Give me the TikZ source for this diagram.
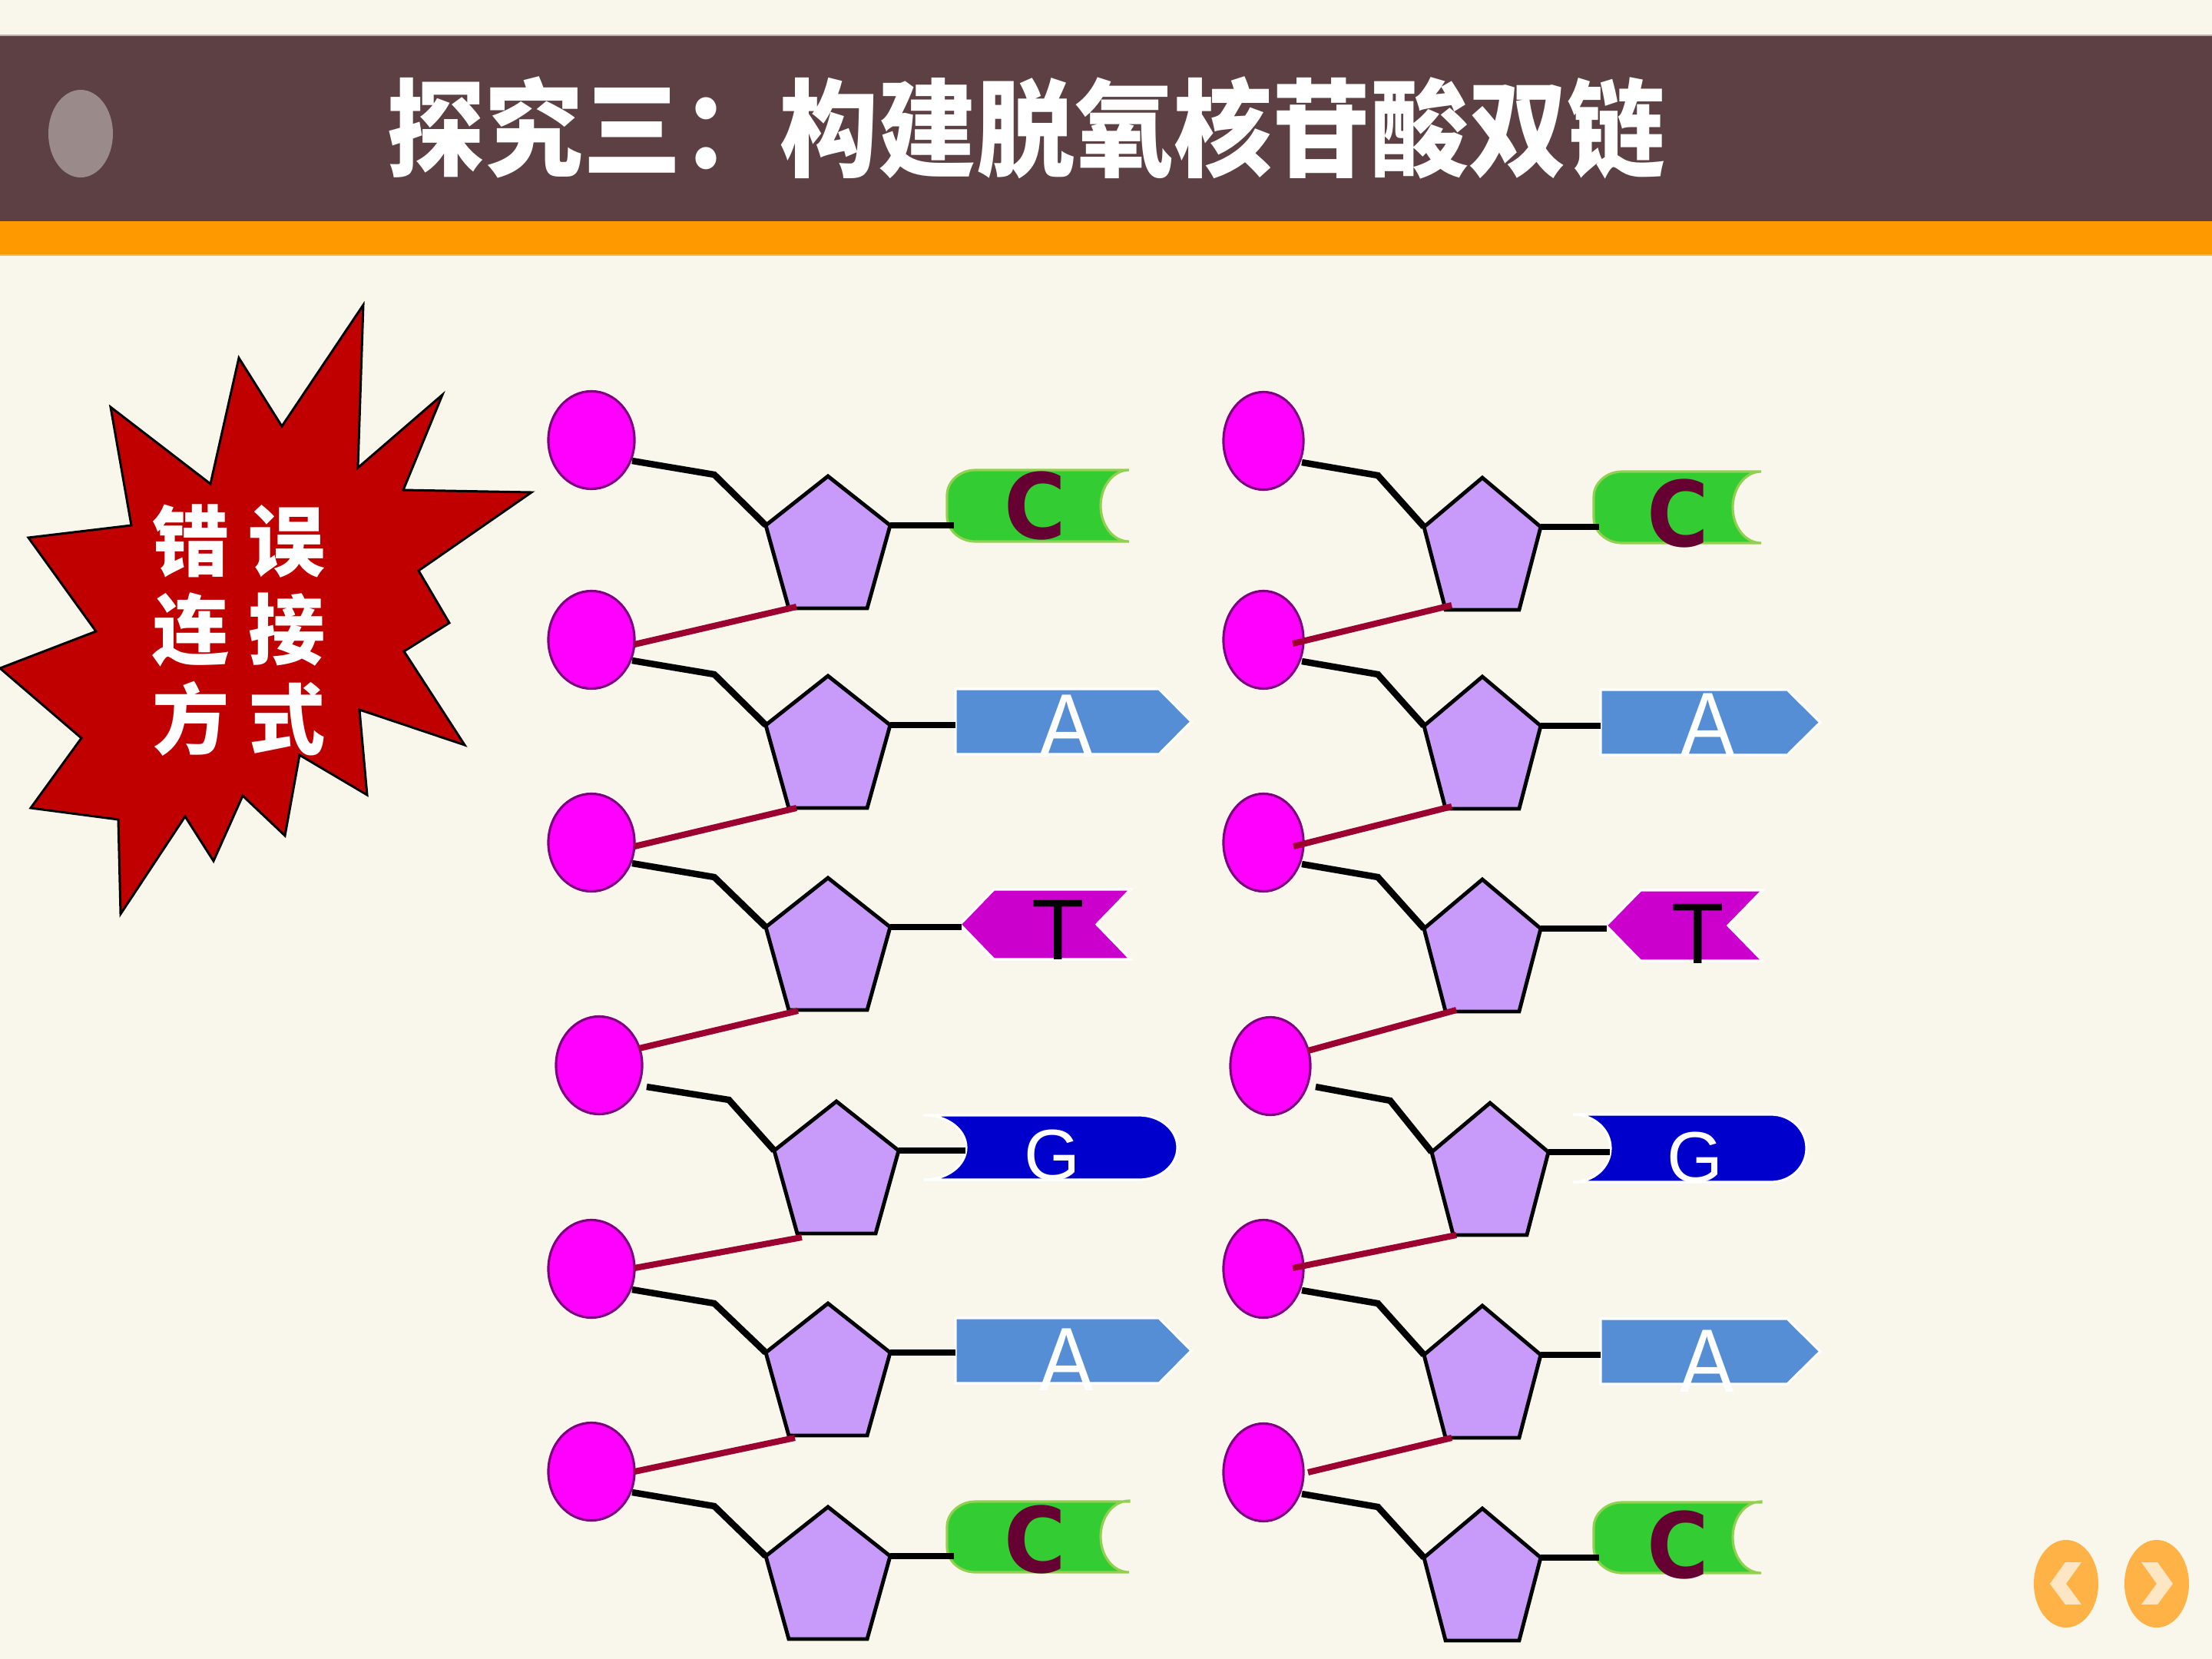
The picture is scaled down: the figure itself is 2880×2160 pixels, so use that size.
\documentclass[tikz,border=0pt]{standalone}
\usepackage{fontspec}
\usepackage{graphicx}
\usetikzlibrary{calc,shapes.geometric}
\newfontfamily\cjk{Noto Sans CJK SC}
\newfontfamily\djb{DejaVu Sans}
\newfontfamily\lib{Liberation Sans}
\definecolor{bg}{HTML}{F9F7EB}
\definecolor{bar}{HTML}{5C4043}
\definecolor{orng}{HTML}{FF9900}
\definecolor{tell}{HTML}{9A8A8A}
\definecolor{burst}{HTML}{C00000}
\definecolor{phos}{HTML}{FF00FF}
\definecolor{phosline}{HTML}{7F007F}
\definecolor{sug}{HTML}{C89BFA}
\definecolor{linkred}{HTML}{9C0030}
\definecolor{cgreen}{HTML}{33CC33}
\definecolor{cline}{HTML}{92D050}
\definecolor{cmaroon}{HTML}{660033}
\definecolor{ablue}{HTML}{558ED5}
\definecolor{tmag}{HTML}{CC00CC}
\definecolor{gblue}{HTML}{0000CC}
\definecolor{nav}{HTML}{FFB347}
\definecolor{chev}{HTML}{FCE6C4}

\newcommand{\mksugar}[4]{%
  \path[sugar] (#2,#3) coordinate (#1-t)
    -- ({#2+#4},{#3+64}) coordinate (#1-r)
    -- ({#2+0.63*#4},{#3+172}) coordinate (#1-br)
    -- ({#2-0.63*#4},{#3+172}) coordinate (#1-bl)
    -- ({#2-#4},{#3+64}) coordinate (#1-l) -- cycle;}
% x0 x1 y0 y1
\newcommand{\mkC}[4]{%
  \path[cshape] (#2,#3) -- ({#1+37},#3)
    arc[start angle=270,end angle=180,x radius=37,y radius=33]
    -- (#1,{#4-33})
    arc[start angle=180,end angle=90,x radius=37,y radius=33]
    -- (#2,#4)
    arc[start angle=90,end angle=270,x radius=37,y radius=46.5] -- cycle;}
% x0 x1 tip y0 y1
\newcommand{\mkA}[5]{%
  \path[ashape] (#1,#4) -- (#2,#4) -- (#3,{(#4+#5)/2}) -- (#2,#5) -- (#1,#5) -- cycle;}
% x0 x1 y0 y1 dx
\newcommand{\mkT}[5]{%
  \path[tshape] (#1,{(#3+#4)/2}) -- ({#1+#5},#3) -- (#2,#3) -- ({#2-#5},{(#3+#4)/2})
    -- (#2,#4) -- ({#1+#5},#4) -- cycle;}
% x0 xcap y0 y1 concave-rx cap-rx ry
\newcommand{\mkG}[7]{%
  \path[gshape] (#1,#3) -- (#2,#3)
    arc[start angle=270,end angle=450,x radius=#6,y radius=#7]
    -- (#1,#4)
    arc[start angle=90,end angle=-90,x radius=#5,y radius=#7] -- cycle;}

\begin{document}
\begin{tikzpicture}[x=0.01cm,y=-0.01cm,
  phosL/.style={ellipse, draw=phosline, line width=0.9pt, fill=phos, minimum width=1.12cm, minimum height=1.27cm, inner sep=0pt},
  phosR/.style={phosL, minimum width=1.04cm},
  sugar/.style={fill=sug, draw=black, line width=1.4pt},
  bond/.style={draw=black, line width=2.4pt},
  link/.style={draw=linkred, line width=2.3pt},
  basebond/.style={draw=black, line width=2.4pt},
  cshape/.style={fill=cgreen, draw=cline, line width=0.9pt},
  ashape/.style={fill=ablue, draw=white, line width=0.9pt},
  tshape/.style={fill=tmag, draw=white, line width=0.9pt},
  gshape/.style={fill=gblue, draw=white, line width=0.9pt},
  ctext/.style={inner sep=0pt, anchor=base, text=cmaroon, font=\djb\bfseries\fontsize{33.6pt}{36pt}\selectfont},
  atext/.style={inner sep=0pt, anchor=base, text=white, font=\lib\fontsize{33.3pt}{36pt}\selectfont},
  ttext/.style={inner sep=0pt, anchor=base, text=black, font=\lib\fontsize{31.9pt}{34pt}\selectfont},
  gtext/.style={inner sep=0pt, anchor=base, text=white, font=\lib\fontsize{26.7pt}{30pt}\selectfont},
  bursttext/.style={inner sep=0pt, text=white, font=\cjk\bfseries\fontsize{28.5pt}{30pt}\selectfont},
  navbtn/.style={ellipse, fill=nav, minimum width=0.84cm, minimum height=1.14cm, inner sep=0pt},
]
\useasboundingbox (0,0) rectangle (2880,2160);
\fill[bg] (0,0) rectangle (2880,2160);

% title bar
\fill[bar] (0,46) rectangle (2880,288);
\fill[orng] (0,288) rectangle (2880,332);
\draw[color=bar!40!bg, line width=0.5pt] (0,46) -- (2880,46);
\draw[color=orng!60!black!40!bg, line width=0.5pt] (0,332) -- (2880,332);
\node[ellipse, fill=tell, minimum width=0.84cm, minimum height=1.14cm, inner sep=0pt] (dot) at (105,174) {};
\node[inner sep=0pt, text=white, font=\cjk\bfseries\fontsize{36.4pt}{40pt}\selectfont] (title) at (1336,166)
  {\scalebox{1}[1.08]{探究三：构建脱氧核苷酸双链}};

% starburst
\path[fill=burst, draw=black, line width=0.85pt, line join=miter]
  (473,397) -- (466,609) -- (576,514) -- (525,638) -- (692,641) -- (545,743) -- (585,811)
  -- (526,848) -- (605,970) -- (468,924) -- (478,1035) -- (390,983) -- (371,1088)
  -- (316,1036) -- (278,1121) -- (241,1063) -- (157,1190) -- (154,1067) -- (40,1052)
  -- (106,961) -- (0,870) -- (125,822) -- (37,700) -- (171,684) -- (144,530)
  -- (274,630) -- (311,466) -- (367,555) -- cycle;
\node[bursttext] (w1) at (311,705) {错\hspace{7pt}误};
\node[bursttext] (w2) at (311,820) {连\hspace{7pt}接};
\node[bursttext] (w3) at (311,936) {方\hspace{7pt}式};

% ---------- bases ----------
% left column
\mkC{1233}{1470}{612}{705}
\mkA{1244}{1509}{1551}{897}{982}
\mkT{1250}{1472}{1158}{1249}{44}
\mkG{1203}{1483}{1452}{1536}{55}{50}{42}
\mkA{1244}{1509}{1551}{1716}{1801}
\mkC{1233}{1470}{1955}{2047}
% right column
\mkC{2075}{2293}{614}{707}
\mkA{2084}{2327}{2370}{898}{983}
\mkT{2091}{2295}{1159}{1251}{45}
\mkG{2048}{2306}{1451}{1539}{49}{46}{44}
\mkA{2084}{2327}{2370}{1717}{1802}
\mkC{2075}{2293}{1956}{2048}

% ---------- sugars ----------
\mksugar{SL1}{1078}{620}{81}
\mksugar{SL2}{1078}{880}{81}
\mksugar{SL3}{1078}{1143}{81}
\mksugar{SL4}{1089}{1434}{81}
\mksugar{SL5}{1078}{1697}{81}
\mksugar{SL6}{1078}{1962}{81}
\mksugar{SR1}{1930}{622}{76}
\mksugar{SR2}{1930}{881}{76}
\mksugar{SR3}{1930}{1145}{76}
\mksugar{SR4}{1940}{1436}{76}
\mksugar{SR5}{1930}{1700}{76}
\mksugar{SR6}{1930}{1964}{76}

% ---------- phosphates ----------
\node[phosL] (L1) at (770,573) {};
\node[phosL] (L2) at (770,833) {};
\node[phosL] (L3) at (770,1097) {};
\node[phosL] (L4) at (780,1387) {};
\node[phosL] (L5) at (770,1652) {};
\node[phosL] (L6) at (770,1916) {};
\node[phosR] (R1) at (1645,574) {};
\node[phosR] (R2) at (1645,833) {};
\node[phosR] (R3) at (1645,1097) {};
\node[phosR] (R4) at (1654,1388) {};
\node[phosR] (R5) at (1645,1652) {};
\node[phosR] (R6) at (1645,1917) {};

% ---------- phosphate-sugar bonds ----------
\foreach \k in {1,2,3,5,6} {
  \draw[bond] ($(L\k)+(53,27)$) -- ($(L\k)+(160,45)$) -- (SL\k-l);
  \draw[bond] ($(R\k)+(50,28)$) -- ($(R\k)+(149,45)$) -- (SR\k-l);
}
\draw[bond] ($(L4)+(62,28)$) -- ($(L4)+(169,45)$) -- (SL4-l);
\draw[bond] ($(R4)+(59,27)$) -- ($(R4)+(156,45)$) -- (SR4-l);

% ---------- wrong links (red) ----------
\draw[link] ($(SL1-bl)+(10,-2)$) -- ($(L2)+(56,6)$);
\draw[link] ($(SL2-bl)+(10,0)$) -- ($(L3)+(56,5)$);
\draw[link] ($(SL3-bl)+(12,1)$) -- ($(L4)+(52,-22)$);
\draw[link] ($(SL4-bl)+(6,5)$) -- ($(L5)+(56,-1)$);
\draw[link] ($(SL5-bl)+(8,3)$) -- ($(L6)+(56,0)$);
\draw[link] ($(SR1-bl)+(8,-6)$) -- ($(R2)+(38,5)$);
\draw[link] ($(SR2-bl)+(8,-3)$) -- ($(R3)+(39,5)$);
\draw[link] ($(SR3-bl)+(14,-2)$) -- ($(R4)+(49,-20)$);
\draw[link] ($(SR4-bl)+(4,0)$) -- ($(R5)+(38,-1)$);
\draw[link] ($(SR5-bl)+(8,0)$) -- ($(R6)+(58,0)$);

% ---------- sugar-base bonds ----------
\coordinate (bL1) at (SL1-r -| 1242,0);
\coordinate (bL2) at (SL2-r -| 1244,0);
\coordinate (bL3) at (SL3-r -| 1252,0);
\coordinate (bL4) at (SL4-r -| 1257,0);
\coordinate (bL5) at (SL5-r -| 1244,0);
\coordinate (bL6) at (SL6-r -| 1242,0);
\coordinate (bR1) at (SR1-r -| 2082,0);
\coordinate (bR2) at (SR2-r -| 2084,0);
\coordinate (bR3) at (SR3-r -| 2092,0);
\coordinate (bR4) at (SR4-r -| 2096,0);
\coordinate (bR5) at (SR5-r -| 2084,0);
\coordinate (bR6) at (SR6-r -| 2082,0);
\foreach \k in {1,...,6} {
  \draw[basebond] (SL\k-r) -- (bL\k);
  \draw[basebond] (SR\k-r) -- (bR\k);
}

% ---------- base letters ----------
\node[ctext] (cL1) at (1348,701) {\scalebox{0.93}[1]{C}};
\node[atext] (aL2) at (1389,985) {\scalebox{0.9}[1]{A}};
\node[ttext] (tL3) at (1378,1249) {T};
\node[gtext] (gL4) at (1370,1536) {G};
\node[atext] (aL5) at (1389,1810) {\scalebox{0.9}[1]{A}};
\node[ctext] (cL6) at (1348,2047) {\scalebox{0.93}[1]{C}};
\node[ctext] (cR1) at (2185,711) {\scalebox{0.93}[1]{C}};
\node[atext] (aR2) at (2224,983) {\scalebox{0.9}[1]{A}};
\node[ttext] (tR3) at (2211,1254) {T};
\node[gtext] (gR4) at (2207,1539) {G};
\node[atext] (aR5) at (2223,1812) {\scalebox{0.9}[1]{A}};
\node[ctext] (cR6) at (2185,2054) {\scalebox{0.93}[1]{C}};

% ---------- navigation buttons ----------
\node[navbtn] (prev) at (2690,2062) {};
\node[navbtn] (next) at (2808,2062) {};
\fill[chev] (2710,2034) -- (2689,2034) -- (2669,2062) -- (2689,2089) -- (2710,2089) -- (2690,2062) -- cycle;
\fill[chev] (2788,2034) -- (2809,2034) -- (2829,2062) -- (2809,2089) -- (2788,2089) -- (2808,2062) -- cycle;
\end{tikzpicture}
\end{document}
